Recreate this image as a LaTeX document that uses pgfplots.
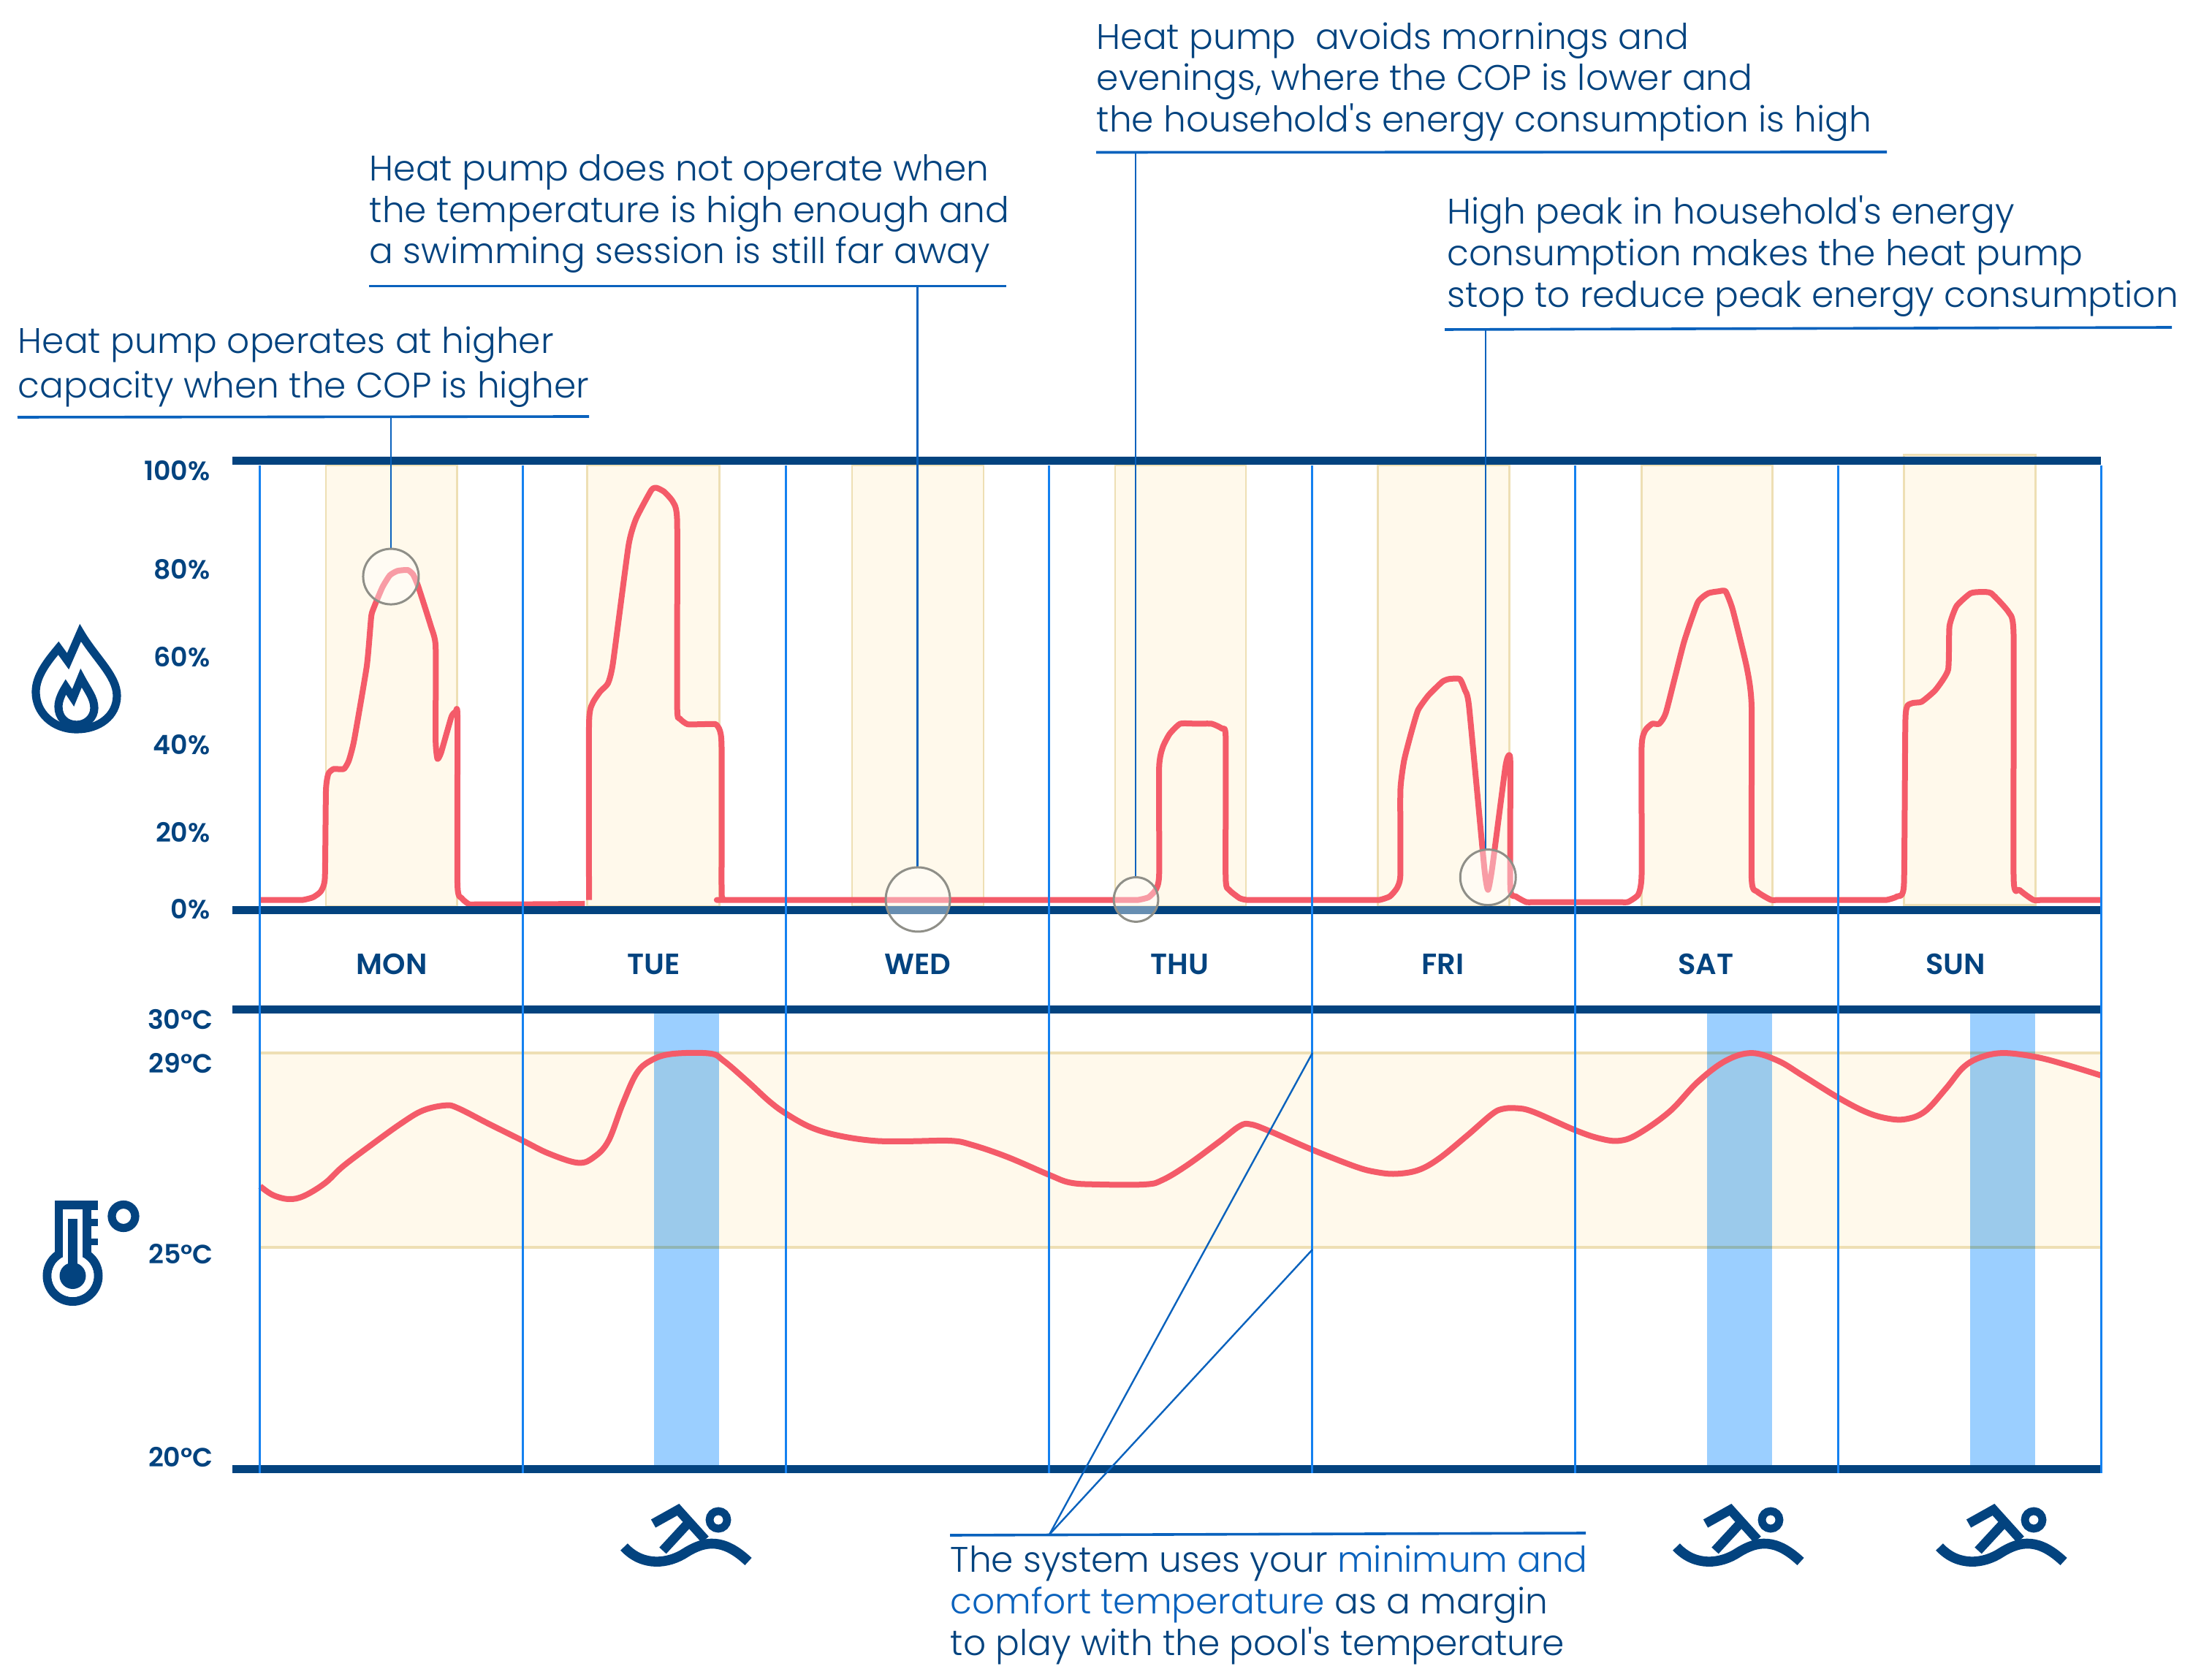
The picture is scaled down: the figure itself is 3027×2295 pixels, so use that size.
\documentclass[border=0pt]{standalone}
\usepackage{fontspec}
\setmainfont{Poppins}[UprightFont=* Light, BoldFont=* SemiBold, Ligatures=TeXOff]
\usepackage{pgfplots}
\usepackage{pgfplotstable}
\pgfplotsset{compat=1.18}

\definecolor{navy}{HTML}{03437F}
\definecolor{dayline}{HTML}{1481F0}
\definecolor{leader}{HTML}{0A62BD}
\definecolor{curve}{HTML}{F45B69}
\definecolor{cream}{HTML}{FFF9EB}
\definecolor{creamedge}{HTML}{EEDFB4}
\definecolor{swim}{HTML}{9BCFFF}
\definecolor{ringgray}{HTML}{8F8F88}

% heat pump capacity, %
\pgfplotstableread{
x y
0 4.7
.1 4.7
.162 4.7
.201 5.3
.230 6.6
.246 9.7
.250 29.6
.259 33.4
.279 34.5
.318 34.5
.337 36.4
.357 41.0
.405 57.8
.419 67.0
.425 70.1
.464 75.8
.493 78.6
.522 79.6
.561 79.8
.581 78.8
.600 76.2
.649 67.0
.667 62.4
.667 41.0
.674 36.8
.688 38.3
.727 46.4
.743 47.5
.750 46.4
.750 8.2
.766 5.1
.795 3.7
.83 3.7
1 3.7
1.234 3.8
}\monday
\pgfplotstableread{
x y
1.250 4.7
1.250 44.8
1.263 49.4
1.292 52.1
1.322 54.0
1.341 58.6
1.400 85.3
1.429 91.5
1.487 98.0
1.507 98.5
1.536 97.6
1.569 95.3
1.585 90.7
1.585 48.7
1.595 46.0
1.624 44.7
1.68 44.7
1.731 44.7
1.747 43.3
1.754 39.5
1.754 8.0
1.756 5.2
1.765 4.7
1.80 4.7
3.25 4.7
3.30 4.7
3.337 4.7
3.377 5.3
3.404 7.0
3.417 10.4
3.417 34.9
3.431 39.5
3.457 42.5
3.497 44.8
3.56 44.8
3.617 44.8
3.656 43.7
3.670 41.8
3.670 9.7
3.683 7.0
3.723 5.1
3.750 4.7
3.79 4.7
4.21 4.7
4.255 4.7
4.294 5.5
4.321 7.4
4.334 10.4
4.334 29.6
4.348 36.4
4.374 42.5
4.401 47.9
4.441 51.3
4.494 54.4
4.520 55.0
4.560 55.0
4.579 52.5
4.595 48.7
4.653 12.0
4.667 7.0
4.683 12.0
4.733 34.9
4.746 37.6
4.752 35.7
4.752 7.4
4.773 5.5
4.813 4.2
4.85 4.2
5.16 4.2
5.198 4.2
5.238 5.9
5.251 10.4
5.251 39.5
5.265 43.3
5.291 44.8
5.318 44.8
5.344 47.5
5.411 63.2
5.464 72.4
5.504 74.5
5.544 74.95
5.570 74.95
5.597 70.8
5.650 57.8
5.669 48.7
5.669 9.7
5.690 6.6
5.743 4.7
5.78 4.7
6.14 4.7
6.182 4.7
6.222 5.5
6.248 8.2
6.254 46.4
6.275 49.4
6.315 49.8
6.368 52.5
6.416 57.1
6.421 67.0
6.448 71.6
6.501 74.5
6.541 74.8
6.580 74.5
6.647 70.1
6.665 64.7
6.665 9.7
6.687 7.0
6.740 4.7
6.78 4.7
6.998 4.7
}\restofweek

% pool temperature, deg C
\pgfplotstableread{
x y
0 26.15
.048 25.96
.109 25.87
.167 25.94
.247 26.22
.314 26.58
.420 27.04
.539 27.53
.619 27.80
.704 27.91
.752 27.85
.872 27.50
.999 27.14
1.098 26.86
1.209 26.66
1.270 26.79
1.324 27.14
1.377 27.93
1.430 28.60
1.483 28.88
1.563 29.03
1.709 29.04
1.762 28.88
1.855 28.42
1.935 28.00
1.999 27.73
2.094 27.43
2.201 27.25
2.334 27.14
2.467 27.13
2.626 27.14
2.706 27.05
2.839 26.79
2.998 26.40
3.078 26.23
3.178 26.19
3.364 26.19
3.431 26.29
3.524 26.61
3.643 27.11
3.723 27.46
3.763 27.50
3.829 27.37
3.997 26.95
4.162 26.58
4.241 26.46
4.316 26.42
4.401 26.50
4.480 26.75
4.587 27.25
4.680 27.71
4.720 27.83
4.773 27.85
4.839 27.77
4.999 27.37
5.092 27.19
5.166 27.14
5.238 27.29
5.358 27.78
5.464 28.42
5.570 28.88
5.669 29.05
5.770 28.88
5.863 28.56
5.998 28.08
6.102 27.77
6.182 27.63
6.254 27.61
6.328 27.78
6.408 28.28
6.474 28.74
6.541 28.96
6.628 29.05
6.753 28.96
6.873 28.78
6.998 28.56
}\pooltemp

\pgfplotsset{
  panel/.style={
    scale only axis,
    width=639.25bp,
    xmin=-0.1056, xmax=6.997,
    clip=false,
    axis x line=box,
    axis y line=left,
    x axis line style={line width=2.75bp, navy, -},
    y axis line style={draw=none},
    major tick length=0pt,
    tick label style={text=navy, font=\bfseries\fontsize{9.1bp}{11bp}\selectfont},
    yticklabel style={anchor=east, inner sep=0pt, xshift=-7.4bp},
  },
  curveline/.style={curve, line width=2bp, line join=round, no marks},
  column/.style={draw=creamedge, fill=cream, line width=.7bp, forget plot},
}

\newcommand{\swimmer}{%
  \draw[navy, line width=3.2bp] (894,2085) -- (928,2066) -- (965,2107);
  \draw[navy, line width=3.2bp] (943,2083) -- (907,2122);
  \draw[navy, line width=2.7bp] (983,2080) circle[radius=12];
  \draw[navy, line width=3.4bp] (854,2117) .. controls (880,2145) and (915,2140) .. (938,2125)
    .. controls (965,2108) and (990,2105) .. (1024,2137);
}

\begin{document}
\begin{tikzpicture}
\begin{scope}[x=.25bp,y=-.25bp]
  \path[use as bounding box] (0,0) rectangle (3027,2295);
  \coordinate (heatpos) at (318,1246);
  \coordinate (temppos) at (318,2010);
\end{scope}

% capacity panel
\begin{axis}[panel, at={(heatpos)}, anchor=south west, height=153.75bp,
    ymin=2.3, ymax=104.6,
    % labels sit where the source has them, 0% and 100% squeezed towards the bars
    ytick={2.6,20,40,60,80,102.4},
    yticklabels={0\%,20\%,40\%,60\%,80\%,100\%},
    xtick={.5,1.495,2.5,3.495,4.495,5.495,6.445},
    xticklabels={MON,TUE,WED,THU,FRI,SAT,SUN},
    xticklabel style={anchor=center, yshift=-18.3bp,
      font=\bfseries\fontsize{10bp}{12bp}\selectfont},
    axis on top]
  \addplot[column] coordinates {(.25,3.3) (.25,103.6) (.749,103.6) (.749,3.3)} -- cycle;
  \addplot[column] coordinates {(1.244,3.3) (1.244,103.6) (1.745,103.6) (1.745,3.3)} -- cycle;
  \addplot[column] coordinates {(2.25,3.3) (2.25,103.6) (2.75,103.6) (2.75,3.3)} -- cycle;
  \addplot[column] coordinates {(3.25,3.3) (3.25,103.6) (3.747,103.6) (3.747,3.3)} -- cycle;
  \addplot[column] coordinates {(4.249,3.3) (4.249,103.6) (4.749,103.6) (4.749,3.3)} -- cycle;
  \addplot[column] coordinates {(5.251,3.3) (5.251,103.6) (5.748,103.6) (5.748,3.3)} -- cycle;
  \addplot[column] coordinates {(6.248,3.6) (6.248,106) (6.748,106) (6.748,3.6)} -- cycle;
  \addplot[curveline, smooth, tension=.3] table {\monday};
  \addplot[curveline, smooth, tension=.3] table {\restofweek};
\end{axis}

% temperature panel
\begin{axis}[panel, at={(temppos)}, anchor=south west, height=157.15bp,
    ymin=20, ymax=30,
    ytick={20.25,24.68,28.83,29.78},
    yticklabels={20°C,25°C,29°C,30°C},
    yticklabel style={xshift=1bp},
    xtick=\empty,
    axis on top]
  \addplot[fill=cream, draw=none, forget plot] coordinates {(0,24.82) (0,29.05) (6.997,29.05) (6.997,24.82)} -- cycle;
  \addplot[creamedge, line width=.8bp, forget plot] coordinates {(0,29.05) (6.997,29.05)};
  \addplot[creamedge, line width=.8bp, forget plot] coordinates {(0,24.82) (6.997,24.82)};
  \addplot[fill=swim, draw=none, blend mode=multiply, forget plot] coordinates {(1.497,20) (1.497,30) (1.744,30) (1.744,20)} -- cycle;
  \addplot[fill=swim, draw=none, blend mode=multiply, forget plot] coordinates {(5.5,20) (5.5,30) (5.747,30) (5.747,20)} -- cycle;
  \addplot[fill=swim, draw=none, blend mode=multiply, forget plot] coordinates {(6.5,20) (6.5,30) (6.747,30) (6.747,20)} -- cycle;
  \addplot[curveline, smooth, tension=.6] table {\pooltemp};
\end{axis}

\begin{scope}[x=.25bp,y=-.25bp]
  % day separators
  \foreach \d in {355.5,715.5,1075.5,1435.5,1795.5,2155.5,2515.5,2875}
    \draw[dayline, line width=.75bp] (\d,637) -- (\d,2016);

  % leaders
  \begin{scope}[leader, line width=.6bp]
    \draw (535,571) -- (535,751);
    \draw (1255.5,391) -- (1255.5,1187);
    \draw (1554,208) -- (1554,1200);
    \draw (2033,450) -- (2033,1162);
    \draw (1436,2100) -- (1796,1441);
    \draw (1436,2100) -- (1796,1710);
  \end{scope}
  \begin{scope}[leader, line width=.9bp]
    \draw (24,571) -- (806,570);
    \draw (505,391.5) -- (1377,391.5);
    \draw (1500,208.5) -- (2582,208);
    \draw (1977,451) -- (2972,448);
    \draw (1300,2101) -- (2170,2098);
  \end{scope}

  % callouts
  \begin{scope}[every node/.style={anchor=base west, inner sep=0pt, text=navy,
      font=\fontsize{12.15bp}{14bp}\selectfont}]
    \node at (24,484) {Heat pump operates at higher};
    \node at (24,544.5) {capacity when the COP is higher};
    \node at (505,248) {Heat pump does not operate when};
    \node at (505,304.5) {the temperature is high enough and};
    \node at (505,361) {a swimming session is still far away};
    \node at (1500,68) {Heat pump\ \ avoids mornings and};
    \node at (1500,124) {evenings, where the COP is lower and};
    \node at (1500,181) {the household's energy consumption is high};
    \node at (1980,307) {High peak in household's energy};
    \node at (1980,364) {consumption makes the heat pump};
    \node at (1980,421) {stop to reduce peak energy consumption};
    \node at (1300,2151) {The system uses your \textcolor{leader}{minimum and}};
    \node at (1300,2208) {\textcolor{leader}{comfort temperature} as a margin};
    \node at (1300,2265) {to play with the pool's temperature};
  \end{scope}

  % flame icon
  \begin{scope}[navy, line width=2.8bp, line join=miter]
    \draw (110,866) .. controls (130,900) and (160,925) .. (160,952)
      .. controls (160,980) and (135,998) .. (105,998)
      .. controls (72,998) and (49,975) .. (49,947)
      .. controls (49,925) and (65,905) .. (80,887) -- (93,905) -- cycle;
    \draw (111,928) .. controls (120,945) and (129,955) .. (129,969)
      .. controls (129,982) and (118,992) .. (105,992)
      .. controls (90,992) and (80,982) .. (80,967)
      .. controls (80,958) and (85,948) .. (90,940) -- (100,955) -- cycle;
  \end{scope}

  % thermometer icon
  \fill[navy] (75,1643) rectangle (125,1725);
  \fill[navy] (125,1643) rectangle (134,1656);
  \fill[navy] (125,1668) rectangle (134,1678);
  \fill[navy] (125,1695) rectangle (134,1704);
  \fill[white] (86,1655) rectangle (113,1730);
  \draw[navy, line width=3bp] (99.5,1746) circle[radius=35];
  \fill[white] (99.5,1746) circle[radius=29];
  \fill[white] (86,1700) rectangle (113,1725);
  \fill[navy] (93,1668) rectangle (106,1735);
  \fill[navy] (99.5,1746) circle[radius=18];
  \draw[navy, line width=2.8bp] (169,1664.5) circle[radius=16];

  % swimmers under the swim sessions
  \swimmer
  \begin{scope}[shift={(1440,0)}]\swimmer\end{scope}
  \begin{scope}[shift={(1800,0)}]\swimmer\end{scope}
\end{scope}

% highlight circles on top of everything
\begin{axis}[at={(heatpos)}, anchor=south west, scale only axis, width=639.25bp, height=153.75bp,
    xmin=-0.1056, xmax=6.997, ymin=2.3, ymax=104.6, hide axis, clip=false]
  \addplot[only marks, mark=*, mark size=9.5bp, mark options={draw=ringgray, fill=white, fill opacity=.4, draw opacity=1, line width=.75bp}]
    coordinates {(.497,78.3) (4.667,9.85)};
  \addplot[only marks, mark=*, mark size=11bp, mark options={draw=ringgray, fill=white, fill opacity=.4, draw opacity=1, line width=.75bp}]
    coordinates {(2.5,4.8)};
  \addplot[only marks, mark=*, mark size=7.6bp, mark options={draw=ringgray, fill=white, fill opacity=.4, draw opacity=1, line width=.75bp}]
    coordinates {(3.329,4.8)};
\end{axis}
\end{tikzpicture}
\end{document}
